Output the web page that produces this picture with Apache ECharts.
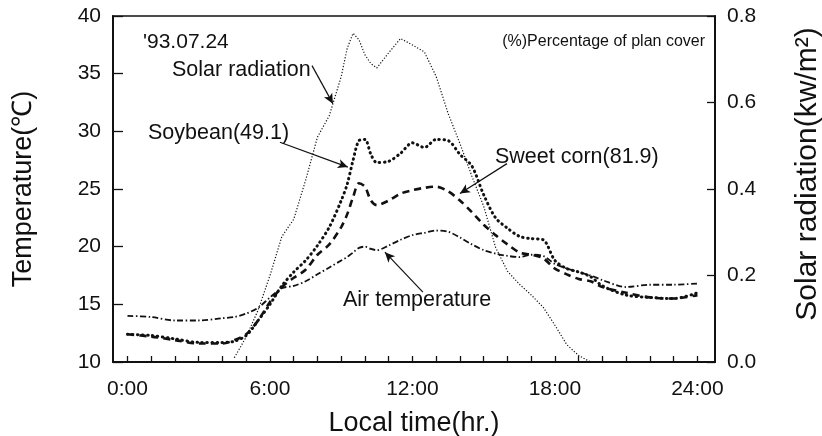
<!DOCTYPE html>
<html>
<head>
<meta charset="utf-8">
<script src="https://cdn.jsdelivr.net/npm/echarts@6/dist/echarts.min.js"></script>
<style>
  html, body { margin: 0; padding: 0; background: #fff; }
  #main { width: 822px; height: 436px; }
</style>
</head>
<body>
<div id="main"></div>
<script>
// local time (hr.)
var hours = [0, 1, 2, 3, 4, 4.5, 5, 5.5, 6, 6.5, 7, 7.5, 8, 8.5, 9, 9.25, 9.5, 9.75, 10, 10.25, 10.5,
    11, 11.5, 12, 12.5, 13, 13.5, 14, 14.5, 15, 15.5, 16, 16.5, 17, 17.5, 18, 18.5, 19, 19.5, 20, 21, 22, 23, 24];
// temperature (C)
var airTemp = [14.0, 13.9, 13.6, 13.6, 13.8, 13.9, 14.2, 14.7, 15.6, 16.4, 16.6, 17.0, 17.6, 18.2, 18.8, 19.1, 19.5, 19.9, 20.0, 19.8, 19.7,
    20.1, 20.6, 21.0, 21.2, 21.4, 21.3, 20.8, 20.2, 19.7, 19.4, 19.2, 19.1, 19.3, 19.2, 18.5, 18.1, 17.8, 17.5, 17.1, 16.5, 16.7, 16.7, 16.8];
var soybean = [12.4, 12.3, 12.0, 11.7, 11.7, 11.8, 12.3, 13.6, 15.0, 16.6, 17.8, 18.8, 20.1, 21.7, 24.0, 25.4, 27.5, 29.2, 29.3, 28.0, 27.3,
    27.4, 28.1, 29.0, 28.6, 29.3, 29.2, 28.0, 27.0, 24.5, 22.5, 21.6, 20.9, 20.7, 20.6, 18.8, 18.1, 17.8, 17.4, 16.6, 15.8, 15.6, 15.5, 16.0];
var sweetCorn = [12.4, 12.2, 11.9, 11.6, 11.6, 11.9, 12.4, 13.6, 15.2, 16.5, 17.3, 18.0, 19.3, 20.2, 21.7, 22.8, 24.3, 25.5, 25.2, 24.0, 23.6,
    24.0, 24.6, 24.9, 25.1, 25.2, 24.8, 24.0, 23.0, 21.9, 21.0, 20.2, 19.5, 19.3, 19.0, 18.1, 17.6, 17.2, 17.0, 16.5, 16.0, 15.6, 15.5, 15.8];
// solar radiation (kw/m2)
var solar = [null, null, null, null, null, 0.01, 0.058, 0.12, 0.20, 0.29, 0.33, 0.42, 0.52, 0.57, 0.66, 0.725, 0.76, 0.745, 0.71, 0.69, 0.68,
    0.715, 0.748, 0.733, 0.717, 0.66, 0.575, 0.505, 0.43, 0.36, 0.265, 0.21, 0.18, 0.155, 0.127, 0.085, 0.04, 0.015, 0.0, null, null, null, null, null];

var xLabels = [0, 6, 12, 18, 24];
var xTicks = [0, 1, 2, 3, 4, 5, 6, 7, 8, 9, 10, 11, 12, 13, 14, 15, 16, 17, 18, 19, 20, 21, 22, 23, 24];

function pairs(ys) {
    return hours.map(function (h, i) { return [h, ys[i]]; });
}

var font = 'Liberation Sans, Arial, sans-serif';
var black = '#111';

function arrow(from, to) {
    return [{ coord: from }, { coord: to }];
}

function label(text, pos, size) {
    return Object.assign({
        type: 'text',
        style: { text: text, fill: black, font: size + 'px ' + font }
    }, pos);
}

var chart = echarts.init(document.getElementById('main'));
chart.setOption({
    animation: false,
    grid: {
        left: 113, right: 107, top: 16, bottom: 74, outerBoundsMode: 'none',
        show: true, borderColor: black, borderWidth: 1.5
    },
    xAxis: {
        type: 'value', min: -0.61, max: 24.74,
        name: 'Local time(hr.)', nameLocation: 'middle', nameGap: 48,
        nameTextStyle: { fontFamily: font, fontSize: 27, color: black },
        axisLine: { onZero: false, lineStyle: { color: black, width: 2 } },
        axisTick: { inside: true, length: 6, customValues: xTicks, lineStyle: { color: black, width: 1.3 } },
        axisLabel: {
            customValues: xLabels, margin: 17, fontFamily: font, fontSize: 21, color: black,
            formatter: function (v) { return v + ':00'; }
        },
        splitLine: { show: false }
    },
    yAxis: [{
        type: 'value', min: 10, max: 40, interval: 5,
        name: 'Temperature(℃)', nameLocation: 'middle', nameGap: 76,
        nameTextStyle: { fontFamily: font, fontSize: 27, color: black },
        axisLine: { show: true, onZero: false, lineStyle: { color: black, width: 2 } },
        axisTick: { inside: true, length: 10, lineStyle: { color: black, width: 1.3 } },
        axisLabel: { margin: 12, fontFamily: font, fontSize: 21, color: black },
        splitLine: { show: false }
    }, {
        type: 'value', min: 0, max: 0.8, interval: 0.2,
        axisLine: { show: true, onZero: false, lineStyle: { color: black, width: 2 } },
        axisTick: { inside: true, length: 8, lineStyle: { color: black, width: 1.3 } },
        axisLabel: {
            margin: 12, fontFamily: font, fontSize: 21, color: black,
            formatter: function (v) { return v.toFixed(1); }
        },
        splitLine: { show: false }
    }],
    series: [{
        name: 'Solar radiation', type: 'line', yAxisIndex: 1, showSymbol: false, connectNulls: false,
        data: pairs(solar),
        lineStyle: { color: black, width: 1.2, type: [1.2, 1.8] }
    }, {
        name: 'Air temperature', type: 'line', showSymbol: false, smooth: 0.3,
        data: pairs(airTemp),
        lineStyle: { color: black, width: 1.8, type: [6, 2.5, 1.5, 2.5] },
        markLine: {
            silent: true, symbol: ['none', 'arrow'], symbolSize: [7, 10], label: { show: false },
            lineStyle: { color: black, width: 1.2, type: 'solid' },
            data: [
                arrow([12.44, 16.06], [10.84, 19.52]),
                arrow([7.77, 35.7], [8.65, 32.4]),
                arrow([6.42, 29.05], [9.28, 26.9]),
                arrow([15.98, 27.2], [14.0, 24.6])
            ]
        }
    }, {
        name: 'Sweet corn', type: 'line', showSymbol: false, smooth: 0.3,
        data: pairs(sweetCorn),
        lineStyle: { color: black, width: 2.6, type: [7, 5] }
    }, {
        name: 'Soybean', type: 'line', showSymbol: false, smooth: 0.3,
        data: pairs(soybean),
        lineStyle: { color: black, width: 3, type: [0.5, 4.5], cap: 'round' }
    }],
    graphic: [
        label("'93.07.24", { left: 143, top: 32 }, 21),
        label('Solar radiation', { left: 172, top: 59 }, 21.5),
        label('Soybean(49.1)', { left: 148, top: 122 }, 21.5),
        label('(%)Percentage of plan cover', { right: 117, top: 34 }, 16),
        label('Sweet corn(81.9)', { left: 495, top: 146 }, 21.5),
        label('Air temperature', { left: 343, top: 289 }, 21.5),
        {
            type: 'text', x: 808, y: 174, rotation: Math.PI / 2,
            style: {
                text: 'Solar radiation(kw/m²)', fill: black, font: '30px ' + font,
                align: 'center', verticalAlign: 'middle'
            }
        }
    ]
});
</script>
</body>
</html>
